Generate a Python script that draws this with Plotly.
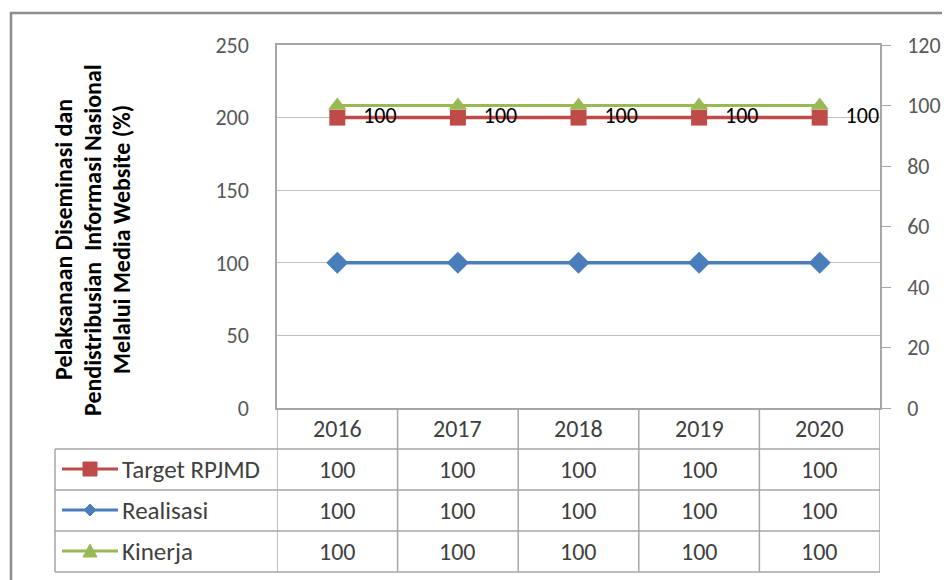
import plotly.graph_objects as go

# Data
tahun = ["2016", "2017", "2018", "2019", "2020"]
target = [100, 100, 100, 100, 100]
realisasi = [100, 100, 100, 100, 100]
kinerja = [100, 100, 100, 100, 100]

merah = "#BE4B48"
biru = "#4A7EBB"
hijau = "#98B954"
FONT = "Carlito, Lato, sans-serif"

# Pixel layout measured on the 950x580 window (page body adds 8px offset)
OFF = 8
L, R, T, B = 277, 880, 45, 408
W, H = R - L, B - T


def px(x):
    return (x - L) / W


def py(y):
    return (B - y) / H


fig = go.Figure()

# Excel stacked line: Realisasi first, Target stacked on top of it
fig.add_trace(go.Scatter(
    x=tahun, y=realisasi, name="Realisasi", stackgroup="s", fill="none",
    mode="lines+markers", line=dict(color=biru, width=3.5),
    marker=dict(symbol="diamond", size=17, color=biru),
))
fig.add_trace(go.Scatter(
    x=tahun, y=target, name="Target RPJMD", stackgroup="s", fill="none",
    mode="lines+markers+text", line=dict(color=merah, width=3.5),
    marker=dict(symbol="square", size=16, color=merah),
    text=[str(v) for v in target], texttemplate="\u00a0\u00a0\u00a0%{text}",
    textposition="middle right", cliponaxis=False,
    textfont=dict(family=FONT, size=22, color="#000000"),
))
fig.add_trace(go.Scatter(
    x=tahun, y=kinerja, name="Kinerja", yaxis="y2",
    mode="lines+markers", line=dict(color=hijau, width=3),
    marker=dict(symbol="triangle-up", size=16, color=hijau),
))

grid = "#BFBFBF"
axc = "#A6A6A6"
tickf = dict(family=FONT, size=22, color="#595959")

fig.update_layout(
    width=950, height=580,
    margin=dict(l=L - OFF, r=950 - (R - OFF), t=T - OFF, b=580 - (B - OFF)),
    paper_bgcolor="white", plot_bgcolor="white",
    showlegend=False,
    font=dict(family=FONT),
    xaxis=dict(range=[-0.5, 4.5], showticklabels=False, ticks="",
               showgrid=False, showline=True, linecolor=axc, linewidth=1.5,
               mirror=True, zeroline=False, fixedrange=True),
    yaxis=dict(range=[0, 250], dtick=50, showgrid=True, gridcolor=grid,
               gridwidth=1.2, showline=True, linecolor=axc, linewidth=1.5,
               ticks="", tickfont=tickf, ticklabelstandoff=22,
               zeroline=False),
    yaxis2=dict(range=[0, 120], dtick=20, overlaying="y", side="right",
                showgrid=False, showline=True, linecolor=axc, linewidth=1.5,
                ticks="outside", ticklen=9, tickcolor=axc, tickfont=tickf,
                ticklabelstandoff=12, zeroline=False),
)

shapes = []
ann = []

# Outer chart frame
shapes.append(dict(type="rect", xref="paper", yref="paper",
                   x0=px(11), x1=px(975), y0=py(600), y1=py(13),
                   line=dict(color="#8C8C8C", width=2.5)))

# Data table grid
rows = [449, 490, 531, 572]
for yy in rows:
    shapes.append(dict(type="line", xref="paper", yref="paper",
                       x0=px(55), x1=px(R), y0=py(yy), y1=py(yy),
                       line=dict(color=axc, width=1.5)))
for k in range(len(tahun) + 1):
    shapes.append(dict(type="line", xref="x", yref="paper",
                       x0=k - 0.5, x1=k - 0.5, y0=py(B), y1=py(572),
                       line=dict(color=axc, width=1.5)))
shapes.append(dict(type="line", xref="paper", yref="paper",
                   x0=px(55), x1=px(55), y0=py(449), y1=py(572),
                   line=dict(color=axc, width=1.5)))

cellf = dict(family=FONT, size=24, color="#404040")
for i, t in enumerate(tahun):
    ann.append(dict(x=i, y=py(428), xref="x", yref="paper", text=t,
                    xanchor="center", yanchor="middle",
                    showarrow=False, font=cellf))

series = [("Target RPJMD", target, merah, "square"),
          ("Realisasi", realisasi, biru, "diamond"),
          ("Kinerja", kinerja, hijau, "triangle")]
centers = [469, 510, 551]
for (nama, vals, warna, sym), cy in zip(series, centers):
    for i, v in enumerate(vals):
        ann.append(dict(x=i, y=py(cy), xref="x", yref="paper", text=str(v),
                        xanchor="center", yanchor="middle",
                        showarrow=False, font=cellf))
    ann.append(dict(x=px(120), y=py(cy), xref="paper", yref="paper",
                    text=nama, showarrow=False, xanchor="left",
                    yanchor="middle", font=dict(family=FONT, size=25, color="#404040")))
    shapes.append(dict(type="line", xref="paper", yref="paper",
                       x0=px(62), x1=px(118), y0=py(cy), y1=py(cy),
                       line=dict(color=warna, width=3)))
    cx = 90
    if sym == "square":
        path = f"M{px(cx-7)},{py(cy-7)} L{px(cx+7)},{py(cy-7)} L{px(cx+7)},{py(cy+7)} L{px(cx-7)},{py(cy+7)} Z"
    elif sym == "diamond":
        path = f"M{px(cx)},{py(cy-6)} L{px(cx+6)},{py(cy)} L{px(cx)},{py(cy+6)} L{px(cx-6)},{py(cy)} Z"
    else:
        path = f"M{px(cx)},{py(cy-7)} L{px(cx+7)},{py(cy+6)} L{px(cx-7)},{py(cy+6)} Z"
    shapes.append(dict(type="path", xref="paper", yref="paper", path=path,
                       fillcolor=warna, line=dict(color=warna, width=1)))

# Y axis title in three lines (Excel style)
judul = ["Pelaksanaan Diseminasi dan",
         "Pendistribusian  Informasi Nasional",
         "Melalui Media Website (%)"]
for baris, xx in zip(judul, [63, 92, 121]):
    ann.append(dict(x=px(xx), y=py(240), xref="paper", yref="paper",
                    text=f"<b>{baris}</b>", textangle=-90, showarrow=False,
                    xanchor="center", yanchor="middle",
                    font=dict(family=FONT, size=24, color="#000000")))

fig.update_layout(shapes=shapes, annotations=ann)

fig.write_html("out.html")
